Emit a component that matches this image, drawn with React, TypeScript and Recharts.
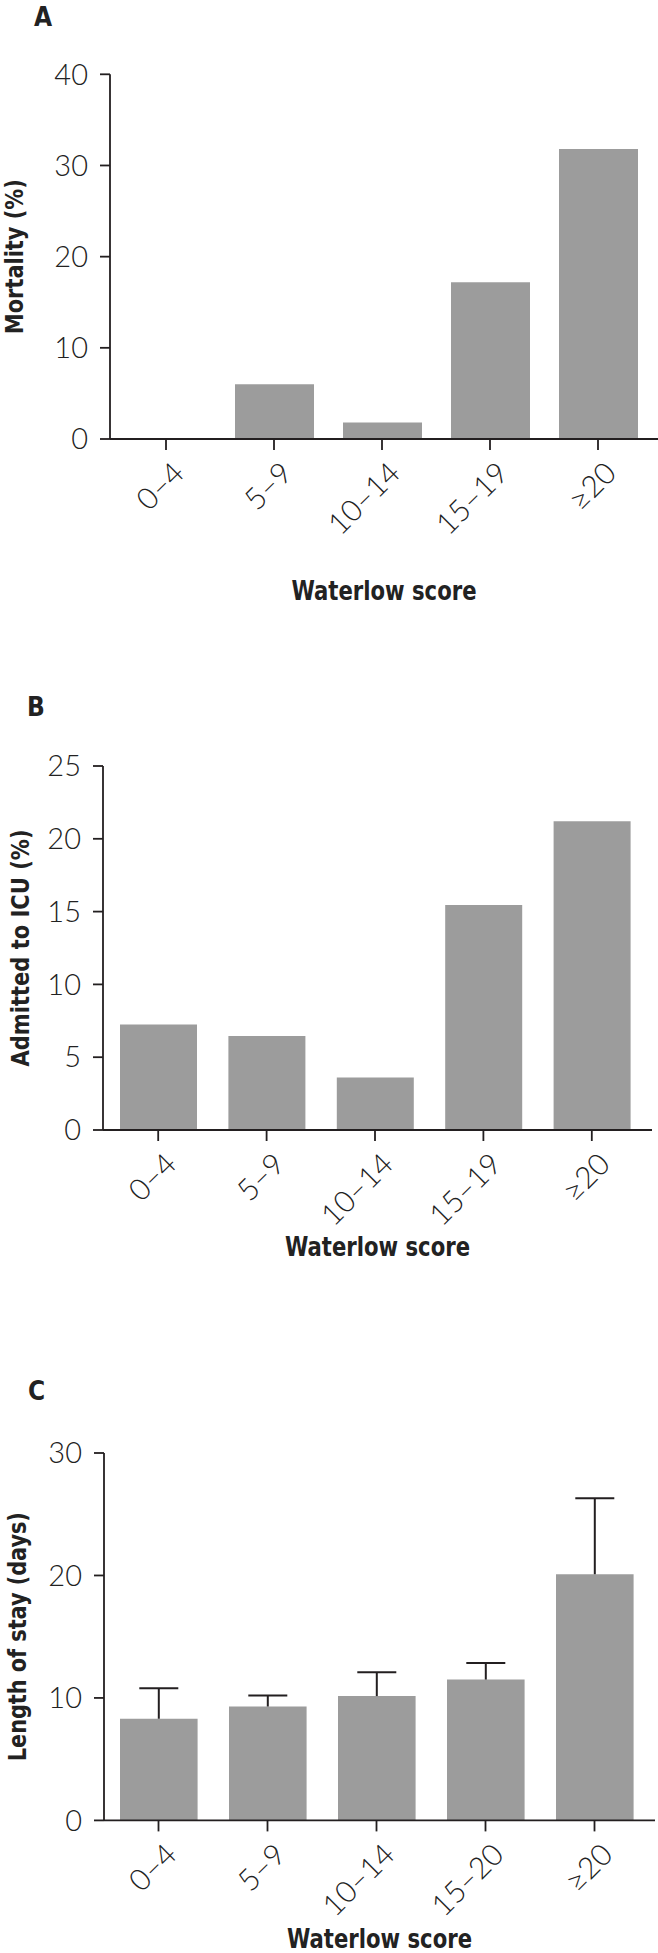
import { BarChart, Bar, XAxis, YAxis, Label } from 'recharts'

// Waterlow score groups
const scoreBands = ['0–4', '5–9', '10–14', '15–19', '≥20']
const stayBands = ['0–4', '5–9', '10–14', '15–20', '≥20']

// A: mortality (%)
const mortality = [0, 6.0, 1.8, 17.2, 31.8]
const mortalityTicks = [0, 10, 20, 30, 40]

// B: admitted to ICU (%)
const icuAdmission = [7.25, 6.45, 3.6, 15.45, 21.2]
const icuTicks = [0, 5, 10, 15, 20, 25]

// C: length of stay (days), mean + upper error
const stayDays = [8.3, 9.3, 10.15, 11.5, 20.1]
const stayError = [2.5, 0.9, 1.95, 1.35, 6.2]
const stayTicks = [0, 10, 20, 30]

const AXIS = '#231f20'
const BAR = '#9c9c9c'
const TEXT = '#222222'
const TICK_FONT = "Lato, 'Open Sans', sans-serif"
const TITLE_FONT = "'Liberation Sans Narrow', 'DejaVu Sans Condensed', sans-serif"

function SlantTick(props: any) {
  const { x, y, payload } = props
  const tx = x + 20
  return (
    <text
      x={tx}
      y={y}
      transform={`rotate(-45 ${tx} ${y})`}
      textAnchor="end"
      fontFamily={TICK_FONT}
      fontWeight={300}
      fontSize={30}
      fill={TEXT}
    >
      {payload.value}
    </text>
  )
}

function ErrorCap(props: any) {
  const { x, y, width, height } = props
  if (height == null || isNaN(y)) return <g />
  const cx = x + width / 2
  return (
    <g stroke={AXIS} strokeWidth={2}>
      <line x1={cx} x2={cx} y1={y + height} y2={y} />
      <line x1={cx - 19.5} x2={cx + 19.5} y1={y} y2={y} />
    </g>
  )
}

type PanelProps = {
  top: number
  height: number
  plotTop: number
  plotBottom: number
  plotLeft: number
  plotRight: number
  pad: [number, number]
  barSize: number
  data: any[]
  max: number
  ticks: number[]
  yTitle: string
  yTitleLen: number
  yTitleX: number
  xTitleGap: number
  withError?: boolean
}

function Panel(p: PanelProps) {
  const xAxisHeight = 120
  const cy = (p.plotTop + p.plotBottom) / 2
  const cx = (p.plotLeft + p.plotRight) / 2
  return (
    <div style={{ position: 'absolute', left: 0, top: p.top }}>
      <BarChart
        width={658}
        height={p.height}
        data={p.data}
        margin={{ top: p.plotTop, right: 658 - p.plotRight, left: 0, bottom: p.height - p.plotBottom - xAxisHeight }}
      >
        <XAxis
          dataKey="band"
          interval={0}
          height={xAxisHeight}
          padding={{ left: p.pad[0], right: p.pad[1] }}
          axisLine={{ stroke: AXIS, strokeWidth: 1.8 }}
          tickLine={{ stroke: AXIS, strokeWidth: 1.8 }}
          tickSize={11}
          tickMargin={25}
          tick={<SlantTick />}
        >
          <Label
            content={() => (
              <text
                x={cx}
                y={p.plotBottom + p.xTitleGap}
                textAnchor="middle"
                fontFamily={TITLE_FONT}
                fontWeight="bold"
                fontSize={26}
                fill={TEXT}
                textLength={185}
                lengthAdjust="spacingAndGlyphs"
              >
                Waterlow score
              </text>
            )}
          />
        </XAxis>
        <YAxis
          width={p.plotLeft}
          domain={[0, p.max]}
          ticks={p.ticks}
          interval={0}
          allowDataOverflow
          axisLine={{ stroke: AXIS, strokeWidth: 1.8 }}
          tickLine={{ stroke: AXIS, strokeWidth: 1.8 }}
          tickSize={10}
          tickMargin={12}
          tick={{ fontFamily: TICK_FONT, fontWeight: 300, fontSize: 29, fill: TEXT }}
        >
          <Label
            content={() => (
              <text
                x={p.yTitleX}
                y={cy}
                transform={`rotate(-90 ${p.yTitleX} ${cy})`}
                textAnchor="middle"
                fontFamily={TITLE_FONT}
                fontWeight="bold"
                fontSize={25}
                fill={TEXT}
                textLength={p.yTitleLen}
                lengthAdjust="spacingAndGlyphs"
              >
                {p.yTitle}
              </text>
            )}
          />
        </YAxis>
        <Bar dataKey="value" stackId="s" fill={BAR} barSize={p.barSize} isAnimationActive={false} />
        {p.withError && (
          <Bar dataKey="err" stackId="s" fill="none" barSize={p.barSize} shape={<ErrorCap />} isAnimationActive={false} />
        )}
      </BarChart>
    </div>
  )
}

export default function App() {
  const dataA = scoreBands.map((band, i) => ({ band, value: mortality[i] }))
  const dataB = scoreBands.map((band, i) => ({ band, value: icuAdmission[i] }))
  const dataC = stayBands.map((band, i) => ({ band, value: stayDays[i], err: stayError[i] }))

  return (
    <div style={{ position: 'absolute', left: 0, top: 0, width: 658, height: 1953, background: '#fff', overflow: 'hidden' }}>
      <Panel
        top={0}
        height={640}
        plotTop={74.3}
        plotBottom={439}
        plotLeft={110}
        plotRight={658}
        pad={[2, 6]}
        barSize={79}
        data={dataA}
        max={40}
        ticks={mortalityTicks}
        yTitle="Mortality (%)"
        yTitleLen={155}
        yTitleX={23}
        xTitleGap={161}
      />
      <Panel
        top={680}
        height={600}
        plotTop={86}
        plotBottom={450}
        plotLeft={103}
        plotRight={652}
        pad={[1, 6]}
        barSize={77}
        data={dataB}
        max={25}
        ticks={icuTicks}
        yTitle="Admitted to ICU (%)"
        yTitleLen={237}
        yTitleX={28.5}
        xTitleGap={126}
      />
      <Panel
        top={1380}
        height={573}
        plotTop={73}
        plotBottom={440.4}
        plotLeft={104}
        plotRight={655}
        pad={[0, 6]}
        barSize={77.6}
        data={dataC}
        max={30}
        ticks={stayTicks}
        yTitle="Length of stay (days)"
        yTitleLen={249}
        yTitleX={26}
        xTitleGap={128}
        withError
      />
      <svg width={658} height={1953} style={{ position: 'absolute', left: 0, top: 0, pointerEvents: 'none' }}>
        <g fontFamily={TITLE_FONT} fontWeight="bold" fontSize={26} fill={TEXT}>
          <text x={34} y={26}>A</text>
          <text x={27} y={716}>B</text>
          <text x={28} y={1400}>C</text>
        </g>
      </svg>
    </div>
  )
}
